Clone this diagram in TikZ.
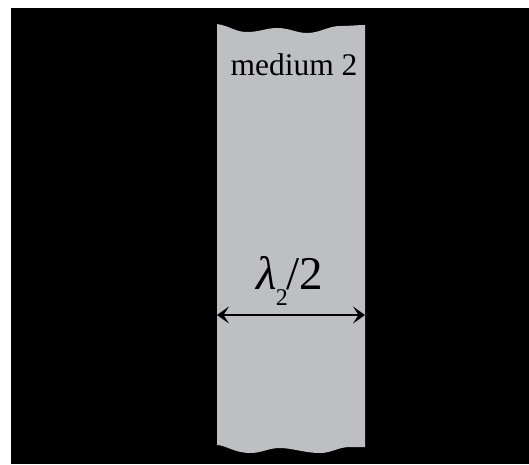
\documentclass[tikz,border=0pt]{standalone}
\usepackage{fontspec}
\setmainfont{Liberation Serif}
\usetikzlibrary{arrows.meta}
\definecolor{mediumgray}{RGB}{190,191,195}
\tikzset{
  lbl/.style={anchor=base, inner sep=0pt, text=black},
  dimtip/.tip={Stealth[length=12pt,width=17pt,inset=5.5pt]},
  dimarrow/.style={line width=2pt, dimtip-dimtip}
}
\begin{document}
\begin{tikzpicture}[x=1pt,y=-1pt]
\useasboundingbox (0,0) rectangle (529,464);
\fill[white] (0,0) rectangle (529,464);
\fill[black] (11,8) rectangle (529,464);
\fill[mediumgray] (217,24) .. controls (230,26) and (235,32) .. (247,32)
  .. controls (260,32) and (266,28) .. (277,28)
  .. controls (290,28) and (296,33) .. (307,33)
  .. controls (320,33) and (328,26) .. (340,26)
  .. controls (350,26) and (358,25) .. (365,25)
  -- (365,447)
  .. controls (358,447) and (356,447) .. (350,447)
  .. controls (338,447) and (332,453) .. (320,453)
  .. controls (305,453) and (292,448) .. (280,448)
  .. controls (268,448) and (262,453) .. (250,453)
  .. controls (235,453) and (225,445) .. (217,445) -- cycle;
\node[lbl] (med) at (294,75) {\fontsize{31.5pt}{36pt}\selectfont medium 2};
\node[lbl] (lam) at (290,289) {\fontsize{47pt}{52pt}\selectfont\itshape λ\upshape\kern-1pt\raisebox{-16pt}{\fontsize{24pt}{26pt}\selectfont 2}\kern-1pt/2};
\coordinate (L) at (217,315);
\coordinate (R) at (365,315);
\draw[dimarrow] (L) -- (R);
\end{tikzpicture}
\end{document}
